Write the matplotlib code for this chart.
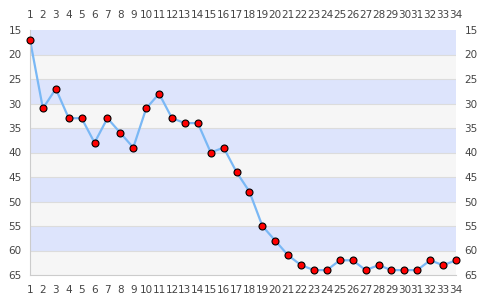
import numpy as np
import matplotlib.pyplot as plt

# Data
rounds = list(range(1, 35))
position = [17, 31, 27, 33, 33, 38, 33, 36, 39, 31, 28, 33, 34, 34, 40, 39, 44,
            48, 55, 58, 61, 63, 64, 64, 62, 62, 64, 63, 64, 64, 64, 62, 63, 62]
y_ticks = list(range(15, 70, 5))

fig = plt.figure(figsize=(4.85, 3.0), dpi=100)
ax = fig.add_axes([30 / 485, 25 / 300, 426 / 485, 245 / 300])

# alternating bands
for i, lo in enumerate(y_ticks[:-1]):
    color = '#dde4fc' if i % 2 == 0 else '#f6f6f6'
    ax.axhspan(lo, lo + 5, color=color, zorder=0, lw=0)
for t in y_ticks[1:-1]:
    ax.axhline(t, color='#dcdcdc', lw=0.8, zorder=1)

ax.plot(rounds, position, '-', color='#7ab8f5', linewidth=1.6, zorder=2)
ax.plot(rounds, position, 'o', color='red', markeredgecolor='black',
        markeredgewidth=0.8, markersize=5, zorder=3, clip_on=False)

ax.set_xlim(1, 34)
ax.set_ylim(65, 15)
ax.set_xticks(rounds)
ax.set_yticks(y_ticks)
ax.tick_params(axis='both', which='both', length=0, labelsize=7.5,
               labelcolor='#444444', top=True, labeltop=True,
               right=True, labelright=True)
ax.tick_params(axis='x', pad=7.5)
ax.tick_params(axis='y', pad=6)

for side in ['top', 'right']:
    ax.spines[side].set_visible(False)
for side in ['left', 'bottom']:
    ax.spines[side].set_color('#cccccc')

plt.savefig('out.png', dpi=100)
